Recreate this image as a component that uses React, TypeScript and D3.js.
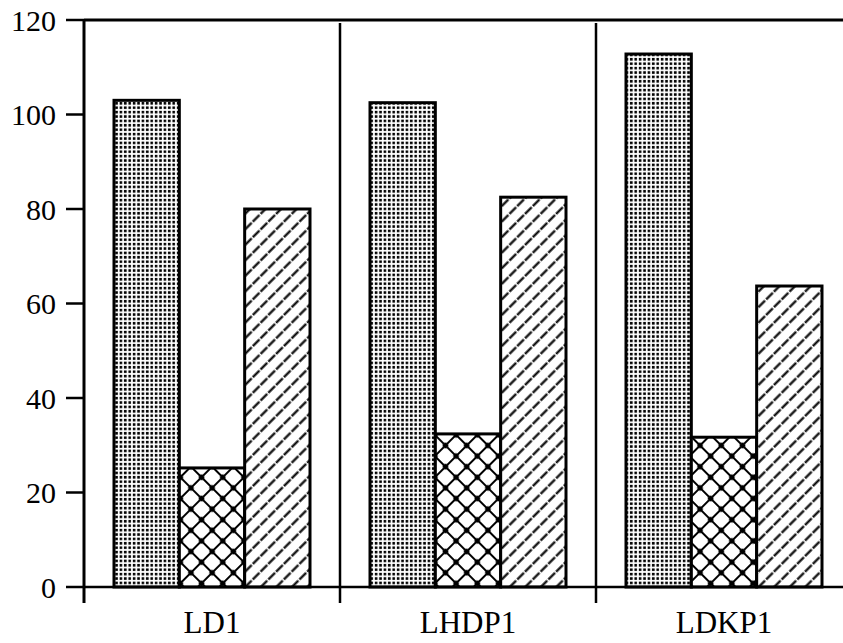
import React from "react";
import * as d3 from "d3";

const categories = ["LD1", "LHDP1", "LDKP1"];
const seriesNames = ["dotted", "crosshatch", "hatch"];
const dottedValues = [103, 102.5, 112.8];
const crosshatchValues = [25.2, 32.4, 31.7];
const hatchValues = [80, 82.5, 63.7];
const yTicks = [0, 20, 40, 60, 80, 100, 120];

const W = 843;
const H = 643;

export default function App() {
  const x = d3.scaleBand<string>().domain(categories).range([84, 852]).padding(0);
  const gw = x.bandwidth();
  const pad = 30;
  const xi = d3.scaleBand<string>().domain(seriesNames).range([pad, gw - pad]).padding(0);
  const y = d3.scaleLinear().domain([0, 120]).range([587, 20]);

  const valuesBySeries: Record<string, number[]> = {
    dotted: dottedValues,
    crosshatch: crosshatchValues,
    hatch: hatchValues,
  };
  const fills: Record<string, string> = {
    dotted: "url(#pDots)",
    crosshatch: "url(#pCross)",
    hatch: "url(#pHatch)",
  };

  const bars: { key: string; x: number; y: number; w: number; h: number; s: string }[] = [];
  categories.forEach((c, ci) => {
    seriesNames.forEach((s) => {
      const v = valuesBySeries[s][ci];
      const x0 = (x(c) as number) + (xi(s) as number);
      bars.push({ key: c + s, x: x0, y: y(v), w: xi.bandwidth(), h: y(0) - y(v), s });
    });
  });

  const font = "'Liberation Serif', 'DejaVu Serif', serif";

  return (
    <svg
      width={W}
      height={H}
      style={{ position: "absolute", left: 0, top: 0, background: "#fff" }}
    >
      <defs>
        <pattern id="pDots" patternUnits="userSpaceOnUse" width={4.4} height={4.4}>
          <rect width={4.4} height={4.4} fill="#fff" />
          <rect x={0.8} y={0.8} width={2.6} height={2.6} fill="#000" />
        </pattern>
        <pattern
          id="pCross"
          patternUnits="userSpaceOnUse"
          width={15}
          height={15}
          patternTransform="rotate(45)"
        >
          <rect width={15} height={15} fill="#fff" />
          <line x1={0} y1={0} x2={15} y2={0} stroke="#000" strokeWidth={2} />
          <line x1={0} y1={0} x2={0} y2={15} stroke="#000" strokeWidth={2} />
          <line x1={0} y1={15} x2={15} y2={15} stroke="#000" strokeWidth={2} />
          <line x1={15} y1={0} x2={15} y2={15} stroke="#000" strokeWidth={2} />
          <circle cx={0} cy={0} r={2.8} fill="#000" />
          <circle cx={15} cy={0} r={2.8} fill="#000" />
          <circle cx={0} cy={15} r={2.8} fill="#000" />
          <circle cx={15} cy={15} r={2.8} fill="#000" />
        </pattern>
        <pattern
          id="pHatch"
          patternUnits="userSpaceOnUse"
          width={11}
          height={11}
          patternTransform="rotate(-45)"
        >
          <rect width={11} height={11} fill="#fff" />
          <line x1={0} y1={5.5} x2={11} y2={5.5} stroke="#000" strokeWidth={2.2} strokeDasharray="9.5 1.5" />
        </pattern>
      </defs>

      {/* top frame line */}
      <line x1={84} x2={W} y1={y(120)} y2={y(120)} stroke="#000" strokeWidth={3} />

      {/* group separators */}
      {categories.slice(1).map((c) => (
        <line
          key={"sep" + c}
          x1={(x(c) as number)}
          x2={(x(c) as number)}
          y1={y(120) + 3}
          y2={603}
          stroke="#000"
          strokeWidth={2.5}
        />
      ))}

      {/* bars */}
      {bars.map((b) => (
        <rect
          key={b.key}
          x={b.x}
          y={b.y}
          width={b.w}
          height={b.h}
          fill={fills[b.s]}
          stroke="#000"
          strokeWidth={3}
        />
      ))}

      {/* bottom axis line */}
      <line x1={84} x2={W} y1={y(0)} y2={y(0)} stroke="#000" strokeWidth={2.5} />

      {/* left axis */}
      <line x1={84} x2={84} y1={y(120)} y2={603} stroke="#000" strokeWidth={3} />

      {/* y ticks */}
      {yTicks.map((t) => (
        <g key={"t" + t}>
          <line x1={66} x2={84} y1={y(t)} y2={y(t)} stroke="#000" strokeWidth={2.5} />
          <text
            x={56}
            y={y(t)}
            dy="0.35em"
            textAnchor="end"
            fontFamily={font}
            fontSize={30}
            fill="#000"
          >
            {t}
          </text>
        </g>
      ))}

      {/* category labels */}
      {categories.map((c) => (
        <text
          key={"c" + c}
          x={(x(c) as number) + gw / 2}
          y={633}
          textAnchor="middle"
          fontFamily={font}
          fontSize={31}
          fill="#000"
        >
          {c}
        </text>
      ))}
    </svg>
  );
}
